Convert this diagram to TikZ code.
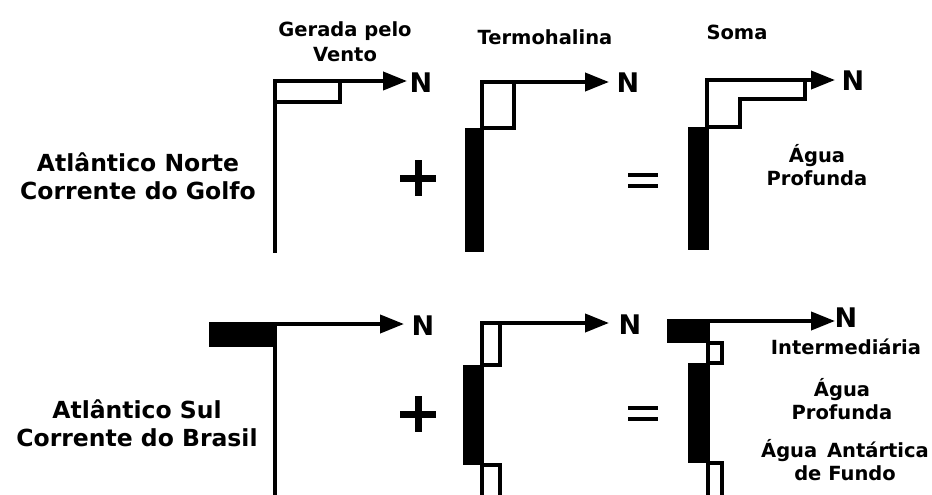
\documentclass[tikz,border=0pt]{standalone}
\usepackage{fontspec}
\setmainfont{DejaVu Sans}
\usetikzlibrary{arrows.meta}
\begin{document}
\begin{tikzpicture}[x=1pt,y=-1pt,
  ax/.style={line width=4pt},
  arr/.style={line width=4pt,-{Triangle[length=24pt,width=18pt]}},
  wbox/.style={draw,line width=3.8pt,fill=white},
  bbox/.style={fill=black},
  lbl/.style={font=\bfseries\fontsize{19.5}{23}\selectfont,align=center,inner sep=0pt},
  side/.style={font=\bfseries\fontsize{23.5}{28}\selectfont,align=center,inner sep=0pt},
  head/.style={font=\bfseries\fontsize{19.5}{25}\selectfont,align=center,inner sep=0pt},
  nn/.style={font=\bfseries\fontsize{27}{27}\selectfont,inner sep=0pt},
  op/.style={line width=7pt}]
\useasboundingbox (0,0) rectangle (932,495);
\clip (0,0) rectangle (932,495);
% headers
\node[head] (h1) at (345,42) {Gerada pelo\\Vento};
\node[head] (h2) at (545,37) {Termohalina};
\node[head] (h3) at (737,32) {Soma};
% side labels
\node[side] (s1) at (138,176) {Atlântico Norte\\Corrente do Golfo};
\node[side] (s2) at (137,423) {Atlântico Sul\\Corrente do Brasil};
% ---------- top row ----------
% panel A
\coordinate (a0) at (275,81);
\coordinate (a1) at (407,81);
\coordinate (ab) at (275,253);
\draw[wbox] (275,81) rectangle (340,102);
\draw[ax] (a0) -- (ab);
\draw[arr] (a0) -- (a1);
\node[nn] (n1) at (421,83) {N};
% panel B
\coordinate (b0) at (482,82);
\coordinate (b1) at (609,82);
\coordinate (bb) at (482,252);
\fill[bbox] (465,128) rectangle (482,252);
\draw[wbox] (482,82) rectangle (514,128);
\draw[ax] (b0) -- (bb);
\draw[arr] (b0) -- (b1);
\node[nn] (n2) at (628,83) {N};
% panel C
\coordinate (c0) at (707,80);
\coordinate (c1) at (835,80);
\fill[bbox] (688,127) rectangle (707,250);
\draw[wbox] (707,80) -- (805,80) -- (805,99) -- (740,99) -- (740,127) -- (707,127) -- cycle;
\draw[ax] (c0) -- (707,250);
\draw[arr] (c0) -- (c1);
\node[nn] (n3) at (853,81) {N};
\node[lbl] (t1) at (817,165) {Água\\Profunda};
% operators
\draw[op] (400,178) -- (436,178);
\draw[op] (418,160) -- (418,196);
\draw[line width=4.5pt] (628,175) -- (658,175);
\draw[line width=4.5pt] (628,186) -- (658,186);
% ---------- bottom row ----------
% panel A
\coordinate (d0) at (275,324);
\coordinate (d1) at (404,324);
\fill[bbox] (209,322) rectangle (275,347);
\draw[ax] (209,324) -- (d0);
\draw[ax] (d0) -- (275,500);
\draw[arr] (d0) -- (d1);
\node[nn] (n4) at (423,326) {N};
% panel B
\coordinate (e0) at (482,323);
\coordinate (e1) at (609,323);
\fill[bbox] (463,365) rectangle (482,465);
\draw[wbox] (482,323) rectangle (500,365);
\draw[wbox] (482,465) rectangle (500,500);
\draw[ax] (e0) -- (482,500);
\draw[arr] (e0) -- (e1);
\node[nn] (n5) at (630,325) {N};
% panel C
\coordinate (f0) at (708,321);
\coordinate (f1) at (835,321);
\fill[bbox] (667,319) rectangle (708,343);
\fill[bbox] (688,363) rectangle (708,463);
\draw[wbox] (708,343) rectangle (722,363);
\draw[wbox] (708,463) rectangle (722,500);
\draw[ax] (f0) -- (708,500);
\draw[ax] (667,321) -- (f0);
\draw[arr] (f0) -- (f1);
\node[nn] (n6) at (846,318) {N};
\node[lbl] (t2) at (846,347) {Intermediária};
\node[lbl] (t3) at (842,399) {Água\\Profunda};
\node[lbl] (t4) at (845,460) {Água\enspace Antártica\\de Fundo};
% operators
\draw[op] (400,414) -- (436,414);
\draw[op] (418,396) -- (418,432);
\draw[line width=4.5pt] (628,408) -- (658,408);
\draw[line width=4.5pt] (628,419) -- (658,419);
\end{tikzpicture}
\end{document}
